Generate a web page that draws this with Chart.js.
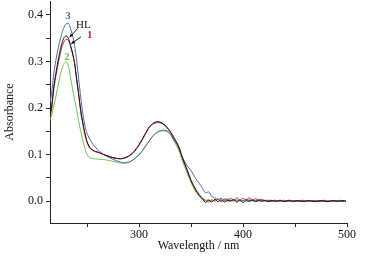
<!DOCTYPE html>
<html>
<head>
<meta charset="utf-8">
<script src="https://cdn.jsdelivr.net/npm/chart.js@4.4.0/dist/chart.umd.min.js"></script>
<style>
  body { margin: 0; background: #fff; }
  #wrap { width: 372px; height: 258px; }
</style>
</head>
<body>
<div id="wrap"><canvas id="uv" width="372" height="258"></canvas></div>
<script>
// wavelength grid (nm)
const wavelengths = [
  214,216,218,220,222,224,226,228,230,232,234,236,238,240,242,244,246,248,250,252,254,256,258,
  262,266,270,274,278,282,286,290,294,298,302,306,310,314,318,322,326,330,334,338,342,346,350,354,358,
  361,364,367,370,373,376,379,382,385,388,391,394,397,400,403,406,409,412,415,418,421,424,427,430,433,
  436,439,442,445,448,451,454,457,460,463,466,469,472,475,478,481,484,487,490,493,496,499
];

const absHL = [
  0.180,0.205,0.245,0.274,0.300,0.322,0.340,0.352,0.355,0.350,0.336,0.318,0.296,0.262,0.228,0.195,0.168,0.146,0.128,0.118,0.112,0.109,0.107,
  0.104,0.100,0.097,0.094,0.092,0.091,0.093,0.097,0.104,0.115,0.129,0.145,0.160,0.168,0.171,0.168,0.161,0.150,0.135,0.118,0.092,0.068,0.044,0.026,0.012,
  0.005,-0.003,0.002,-0.002,0.004,-0.001,0.003,-0.002,0.002,0.000,0.003,-0.002,0.002,-0.003,0.001,0.000,0.002,-0.001,0.001,0.000,
  0.001,-0.001,0.001,0.000,0.000,0.001,-0.001,0.000,0.001,0.000,0.000,0.001,-0.001,0.000,0.001,0.000,-0.001,0.000,0.001,0.000,
  -0.001,0.000,0.001,0.000,0.000,0.001,0.000
];

const abs1 = [
  0.175,0.198,0.240,0.268,0.292,0.314,0.332,0.343,0.348,0.346,0.334,0.318,0.298,0.264,0.230,0.190,0.165,0.142,0.126,0.116,0.111,0.108,0.106,
  0.104,0.100,0.097,0.094,0.092,0.091,0.092,0.096,0.102,0.113,0.127,0.143,0.159,0.166,0.169,0.167,0.160,0.148,0.133,0.118,0.090,0.070,0.045,0.028,0.014,
  0.006,0.002,-0.002,0.003,0.000,0.004,-0.001,0.005,0.002,0.006,0.001,0.007,0.002,0.006,0.003,0.007,0.002,0.005,0.003,0.004,
  0.001,0.002,0.000,0.002,0.001,0.002,0.000,0.001,0.002,0.000,0.001,0.000,0.002,0.000,0.001,0.001,0.000,0.001,0.000,0.002,
  0.000,0.001,0.000,0.001,0.000,0.001,0.000
];

const abs2 = [
  0.172,0.185,0.205,0.224,0.246,0.268,0.285,0.296,0.300,0.292,0.268,0.242,0.218,0.196,0.172,0.150,0.130,0.113,0.100,0.094,0.092,0.091,0.091,
  0.090,0.089,0.088,0.086,0.084,0.082,0.081,0.083,0.088,0.096,0.106,0.118,0.130,0.141,0.148,0.151,0.150,0.143,0.128,0.110,0.085,0.062,0.040,0.022,0.010,
  0.004,0.001,0.003,0.000,0.002,0.003,0.000,0.002,-0.001,0.002,0.000,0.003,0.000,0.001,0.002,-0.001,0.001,0.000,0.002,0.000,
  0.001,0.000,-0.001,0.001,0.000,0.001,0.000,0.001,-0.001,0.000,0.001,0.000,0.000,0.001,-0.001,0.000,0.001,0.000,0.000,-0.001,
  0.001,0.000,0.000,0.001,0.000,-0.001,0.000
];

const abs3 = [
  0.210,0.232,0.274,0.302,0.326,0.345,0.362,0.374,0.381,0.382,0.372,0.357,0.336,0.302,0.262,0.222,0.188,0.162,0.146,0.136,0.128,0.121,0.116,
  0.107,0.100,0.095,0.091,0.087,0.084,0.083,0.084,0.088,0.095,0.104,0.117,0.130,0.142,0.149,0.152,0.152,0.145,0.130,0.115,0.093,0.077,0.066,0.050,0.038,
  0.028,0.018,0.020,0.010,0.007,0.004,0.006,0.002,0.005,0.001,0.004,0.000,0.003,0.001,0.004,0.002,0.003,0.001,0.002,0.000,
  0.002,0.001,0.002,0.000,0.001,0.000,0.002,0.000,0.001,-0.001,0.001,0.000,0.001,-0.001,0.001,0.000,0.001,-0.001,0.000,0.001,
  -0.001,0.000,0.001,-0.001,0.002,-0.001,0.000
];

const xTicks = [250, 300, 350, 400, 450, 500];
const yTicks = [0, 0.05, 0.1, 0.15, 0.2, 0.25, 0.3, 0.35, 0.4];

// curve labels and arrows, in data units
const curveLabels = [
  { text: '3', wl: 231.7, a: 0.398, color: '#4a68b0', weight: 'bold' },
  { text: 'HL', wl: 246.4, a: 0.378, color: '#111', weight: 'normal' },
  { text: '1', wl: 252.6, a: 0.357, color: '#c8282c', weight: 'bold' },
  { text: '2', wl: 230.7, a: 0.310, color: '#6cbf52', weight: 'bold' }
];
const arrows = [
  { from: [241.0, 0.371], to: [233.2, 0.352] },
  { from: [244.2, 0.353], to: [234.8, 0.338] }
];

const FONT = 'Liberation Serif, Times New Roman, serif';

function toPoints(ys) {
  return wavelengths.map((w, i) => ({ x: w, y: ys[i] }));
}

const annotate = {
  id: 'annotate',
  afterDatasetsDraw(chart) {
    const ctx = chart.ctx;
    const xs = chart.scales.x, ys = chart.scales.y;
    ctx.save();
    ctx.textAlign = 'center';
    ctx.textBaseline = 'middle';
    curveLabels.forEach(l => {
      ctx.font = l.weight + ' 11px ' + FONT;
      ctx.fillStyle = l.color;
      ctx.fillText(l.text, xs.getPixelForValue(l.wl), ys.getPixelForValue(l.a));
    });
    ctx.strokeStyle = '#111';
    ctx.fillStyle = '#111';
    ctx.lineWidth = 1;
    arrows.forEach(ar => {
      const x1 = xs.getPixelForValue(ar.from[0]), y1 = ys.getPixelForValue(ar.from[1]);
      const x2 = xs.getPixelForValue(ar.to[0]), y2 = ys.getPixelForValue(ar.to[1]);
      ctx.beginPath();
      ctx.moveTo(x1, y1);
      ctx.lineTo(x2, y2);
      ctx.stroke();
      const ang = Math.atan2(y2 - y1, x2 - x1);
      ctx.beginPath();
      ctx.moveTo(x2, y2);
      ctx.lineTo(x2 - 4 * Math.cos(ang - 0.45), y2 - 4 * Math.sin(ang - 0.45));
      ctx.lineTo(x2 - 4 * Math.cos(ang + 0.45), y2 - 4 * Math.sin(ang + 0.45));
      ctx.closePath();
      ctx.fill();
    });
    ctx.restore();
  }
};

const ctx = document.getElementById('uv').getContext('2d');
new Chart(ctx, {
  type: 'line',
  data: {
    datasets: [
      { label: 'HL', data: toPoints(absHL), borderColor: '#111111' },
      { label: '1', data: toPoints(abs1), borderColor: '#c8282c' },
      { label: '3', data: toPoints(abs3), borderColor: '#4a68b0' },
      { label: '2', data: toPoints(abs2), borderColor: '#6cbf52' }
    ]
  },
  options: {
    responsive: false,
    animation: false,
    datasets: {
      line: { borderWidth: 1, pointRadius: 0, tension: 0.25, fill: false }
    },
    layout: { padding: { left: 0, right: 25, top: 1, bottom: 0 } },
    plugins: {
      legend: { display: false },
      tooltip: { enabled: false }
    },
    scales: {
      x: {
        type: 'linear',
        min: 214.4,
        max: 500,
        afterBuildTicks: s => { s.ticks = xTicks.map(v => ({ value: v })); },
        afterFit: s => { s.height = 35; },
        ticks: {
          color: '#111',
          font: { family: FONT, size: 12 },
          padding: 1,
          maxRotation: 0,
          autoSkip: false,
          callback: v => (v % 100 === 0 ? String(v) : '')
        },
        grid: { drawOnChartArea: false, drawTicks: true, tickLength: 4, tickColor: '#222' },
        border: { display: true, color: '#222', width: 1 },
        title: {
          display: true,
          text: 'Wavelength / nm',
          color: '#111',
          font: { family: FONT, size: 12 },
          padding: { top: 0, bottom: 5 }
        }
      },
      y: {
        min: -0.047,
        max: 0.43,
        afterBuildTicks: s => { s.ticks = yTicks.map(v => ({ value: v })); },
        afterFit: s => { s.width = 50; s.paddingTop = 0; },
        ticks: {
          color: '#111',
          font: { family: FONT, size: 12 },
          padding: 3,
          autoSkip: false,
          callback: v => (Math.abs(v * 10 - Math.round(v * 10)) < 1e-6 ? v.toFixed(1) : '')
        },
        grid: { drawOnChartArea: false, drawTicks: true, tickLength: 4, tickColor: '#222' },
        border: { display: true, color: '#222', width: 1 },
        title: {
          display: true,
          text: 'Absorbance',
          color: '#111',
          font: { family: FONT, size: 12 },
          padding: { top: 3, bottom: 0 }
        }
      }
    }
  },
  plugins: [annotate]
});
</script>
</body>
</html>
